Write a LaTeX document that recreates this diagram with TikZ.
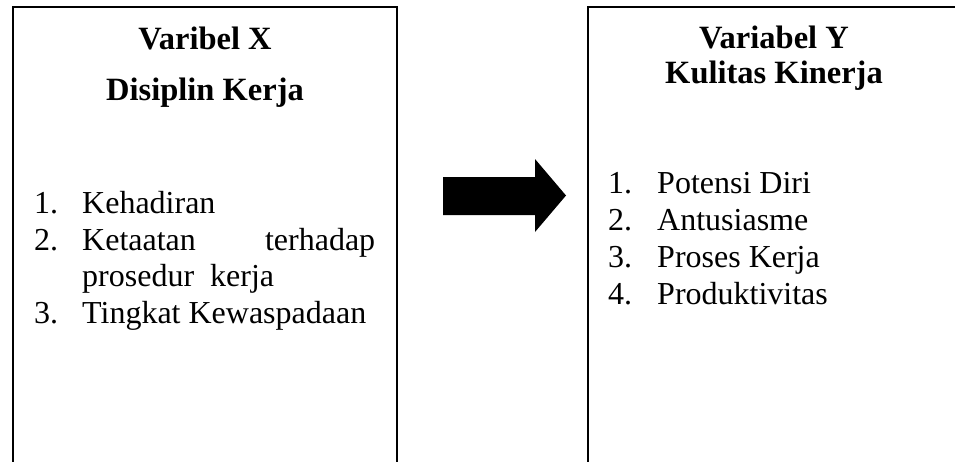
\documentclass[tikz,border=0pt]{standalone}
\usepackage{fontspec}
\setmainfont{Liberation Serif}
\begin{document}
\begin{tikzpicture}[x=1pt,y=-1pt,
  txt/.style={inner sep=0pt,anchor=base west,font=\fontsize{32}{37}\selectfont},
  ttl/.style={inner sep=0pt,anchor=base,font=\fontsize{32.5}{37}\selectfont\bfseries},
  boxline/.style={draw=black,line width=1.5pt}]
\useasboundingbox (0,0) rectangle (955,461);
\clip (0,0) rectangle (955,461);
\fill[white] (0,0) rectangle (955,461);
% left box
\draw[boxline] (13,480) -- (13,7) -- (397,7) -- (397,480);
\node[ttl] (tx1) at (205,49) {Varibel X};
\node[ttl] (tx2) at (205,100) {Disiplin Kerja};
\node[txt] (ln1) at (34,213) {1.};
\node[txt] (lt1) at (82,213) {Kehadiran};
\node[txt] (ln2) at (34,250) {2.};
\node[txt] (lt2) at (82,250) {\makebox[293pt][s]{Ketaatan\hfill terhadap}};
\node[txt] (lt2b) at (82,286) {prosedur\ \ kerja};
\node[txt] (ln3) at (34,323) {3.};
\node[txt] (lt3) at (82,323) {Tingkat Kewaspadaan};
% arrow
\fill[black] (443,177) -- (535,177) -- (535,159) -- (566,195.5) -- (535,232) -- (535,215) -- (443,215) -- cycle;
% right box
\draw[boxline] (588,480) -- (588,7) -- (970,7) -- (970,480);
\node[ttl] (ty1) at (774,48) {Variabel Y};
\node[ttl] (ty2) at (774,83) {Kulitas Kinerja};
\node[txt] (rn1) at (608,193) {1.};
\node[txt] (rt1) at (657,193) {Potensi Diri};
\node[txt] (rn2) at (608,230) {2.};
\node[txt] (rt2) at (657,230) {Antusiasme};
\node[txt] (rn3) at (608,267) {3.};
\node[txt] (rt3) at (657,267) {Proses Kerja};
\node[txt] (rn4) at (608,304) {4.};
\node[txt] (rt4) at (657,304) {Produktivitas};
\end{tikzpicture}
\end{document}
